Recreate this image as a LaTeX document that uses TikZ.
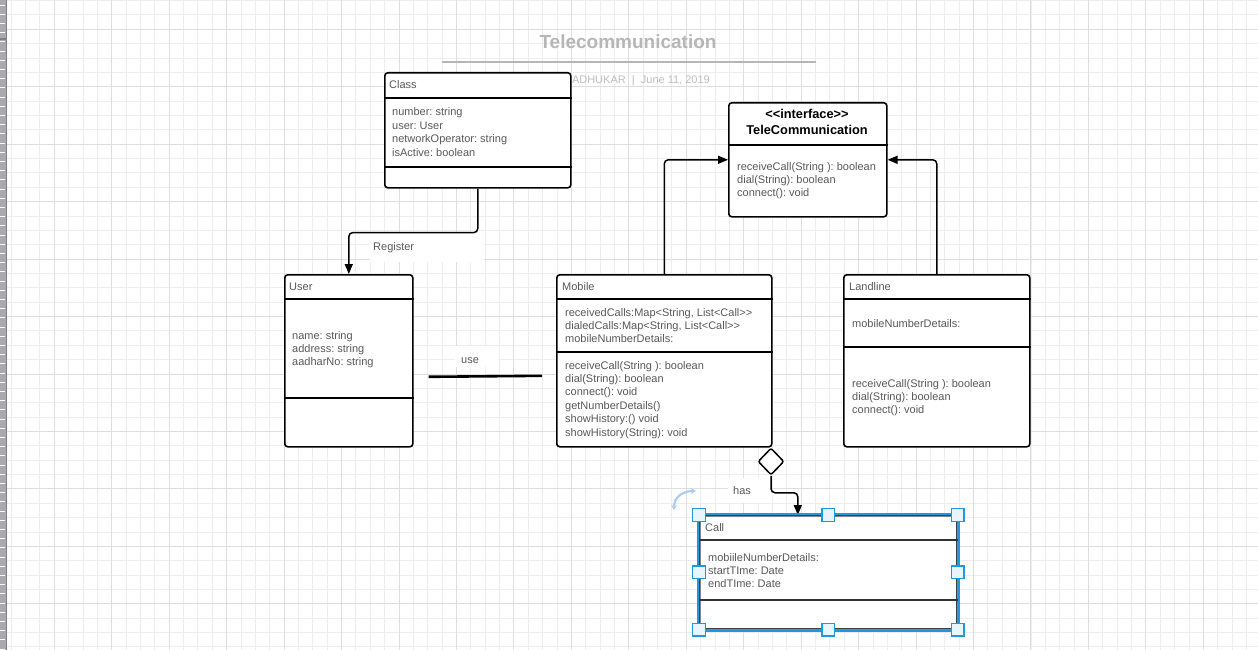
\documentclass[tikz,border=0pt]{standalone}
\usepackage{fontspec}
\newfontfamily\umlfont{Liberation Sans}
\usepackage{tikz}
\usetikzlibrary{arrows.meta,shapes.geometric}

\definecolor{txtgray}{RGB}{89,89,89}
\definecolor{titlegray}{RGB}{182,182,182}
\definecolor{subgray}{RGB}{190,190,190}
\definecolor{gridminor}{RGB}{237,237,237}
\definecolor{gridmajor}{RGB}{222,222,222}
\definecolor{selblue}{RGB}{30,152,222}
\definecolor{handlefill}{RGB}{232,245,253}
\definecolor{rotblue}{RGB}{172,206,240}
\definecolor{rulergray}{RGB}{170,170,174}

\newcommand{\members}[4]{%
	\foreach \t [count=\k from 0] in {#4}
		\node[mem] (#1\k) at (#2,#3+\k*13.4) {\t};}

\begin{document}
\begin{tikzpicture}[x=1pt,y=-1pt,
	umlbox/.style={draw=black,fill=white,line width=1.6pt,rounded corners=3pt,anchor=north west,inner sep=0},
	divline/.style={line width=1.5pt},
	mem/.style={anchor=base west,inner sep=0,yshift=-1pt,text=txtgray,font=\umlfont\frenchspacing\fontsize{11}{13.4}\selectfont},
	hdr/.style={anchor=base,inner sep=0,font=\umlfont\bfseries\fontsize{12.8}{15}\selectfont},
	lblbg/.style={fill=white,inner sep=0},
	conn/.style={line width=1.5pt,rounded corners=4pt,-{Triangle[length=10pt,width=8pt]}},
	handle/.style={draw=selblue,fill=handlefill,line width=1.4pt,minimum size=12.5pt,inner sep=0}]

	\useasboundingbox (0,0) rectangle (1258,650);
	\fill[white] (0,0) rectangle (1258,650);

	% grid
	\foreach \i in {-3,...,83}
		\draw[gridminor,line width=0.9pt] (54.3+\i*14.3625,0) -- (54.3+\i*14.3625,650);
	\foreach \j in {-2,...,43}
		\draw[gridminor,line width=0.9pt] (0,29.3+\j*14.3625) -- (1258,29.3+\j*14.3625);
	\foreach \i in {0,...,20}
		\draw[gridmajor,line width=1pt] (54.3+\i*57.45,0) -- (54.3+\i*57.45,650);
	\foreach \j in {0,...,10}
		\draw[gridmajor,line width=1pt] (0,29.3+\j*57.45) -- (1258,29.3+\j*57.45);

	% ruler
	\fill[rulergray] (0,0) rectangle (6,650);
	\foreach \t in {0,...,70}
		\draw[white,line width=0.8pt] (0,5+\t*9.2) -- (5,5+\t*9.2);
	\draw[gray,line width=0.8pt] (6,0) -- (6,650);
	\fill[gray] (0,38.5) rectangle (6,40.5);

	% title
	\node[inner sep=0,text=titlegray,font=\umlfont\bfseries\fontsize{19}{22}\selectfont] (title) at (628,42) {Telecommunication};
	\draw[titlegray,line width=1.2pt] (442,62) -- (816,62);
	\node[anchor=base east,inner sep=0,text=subgray,font=\umlfont\fontsize{11}{13}\selectfont] (sub) at (710,83.5) {MADHUKAR\ \ |\ \ June 11, 2019};

	% classes
	\node[umlbox,minimum width=186pt,minimum height=115pt] (cls) at (384,72) {};
	\draw[divline] ([yshift=-26pt]cls.north west) -- ([yshift=-26pt]cls.north east);
	\draw[divline] ([yshift=-95pt]cls.north west) -- ([yshift=-95pt]cls.north east);
	\node[mem] (clsname) at (389,88) {Class};
	\members{clsattr}{392}{115}{number: string,user: User,networkOperator: string,isActive: boolean}

	\node[umlbox,minimum width=158pt,minimum height=114pt] (tc) at (728,102) {};
	\draw[divline] ([yshift=-43pt]tc.north west) -- ([yshift=-43pt]tc.north east);
	\node[hdr] (tcst) at (807,118.5) {<<interface>>};
	\node[hdr] (tcname) at (807,135) {TeleCommunication};
	\members{tcop}{737}{169}{receiveCall(String ): boolean,dial(String): boolean,connect(): void}

	\node[umlbox,minimum width=128pt,minimum height=172pt] (usr) at (284,274) {};
	\draw[divline] ([yshift=-25pt]usr.north west) -- ([yshift=-25pt]usr.north east);
	\draw[divline] ([yshift=-124pt]usr.north west) -- ([yshift=-124pt]usr.north east);
	\node[mem] (usrname) at (289,289) {User};
	\members{usrattr}{292}{338}{name: string,address: string,aadharNo: string}

	\node[umlbox,minimum width=215pt,minimum height=172pt] (mob) at (556,274) {};
	\draw[divline] ([yshift=-25pt]mob.north west) -- ([yshift=-25pt]mob.north east);
	\draw[divline] ([yshift=-78pt]mob.north west) -- ([yshift=-78pt]mob.north east);
	\node[mem] (mobname) at (562,289) {Mobile};
	\members{mobattr}{565}{315}{{receivedCalls:Map<String, List<Call>>},{dialedCalls:Map<String, List<Call>>},mobileNumberDetails:}
	\members{mobop}{565}{368}{receiveCall(String ): boolean,dial(String): boolean,connect(): void,getNumberDetails(),showHistory:() void,showHistory(String): void}

	\node[umlbox,minimum width=186pt,minimum height=172pt] (lnd) at (843,274) {};
	\draw[divline] ([yshift=-25pt]lnd.north west) -- ([yshift=-25pt]lnd.north east);
	\draw[divline] ([yshift=-73pt]lnd.north west) -- ([yshift=-73pt]lnd.north east);
	\node[mem] (lndname) at (849,289) {Landline};
	\members{lndattr}{852}{326}{mobileNumberDetails:}
	\members{lndop}{852}{386}{receiveCall(String ): boolean,dial(String): boolean,connect(): void}

	\node[umlbox,draw=black!75,minimum width=257pt,minimum height=113pt] (call) at (699,515) {};
	\draw[divline,black!80] ([yshift=-25pt]call.north west) -- ([yshift=-25pt]call.north east);
	\draw[divline,black!80] ([yshift=-85pt]call.north west) -- ([yshift=-85pt]call.north east);
	\node[mem] (callname) at (705,530) {Call};
	\members{callattr}{708}{560}{mobiileNumberDetails:,startTIme: Date,endTIme: Date}

	% relations
	\node[lblbg,minimum width=114pt,minimum height=29pt] (regbg) at (427,247.5) {};
	\node[mem] (reglbl) at (373,249) {Register};
	\draw[conn] (cls.south) -- ++(0,44) -| (usr.north);

	\node[lblbg,minimum width=43pt,minimum height=21pt] (usebg) at (476.5,356.5) {};
	\node[mem] (uselbl) at (461,362) {use};
	\draw[line width=2.6pt] ([shift={(15,16)}]usr.east) -- ([shift={(-14,15)}]mob.west);

	\draw[conn] (mob.north) |- (tc.west);
	\draw[conn] (lnd.north) |- (tc.east);

	\node[diamond,draw,fill=white,line width=1.5pt,minimum width=26pt,minimum height=27pt,inner sep=0,rounded corners=2pt] (agg) at (771,461.5) {};
	\node[lblbg,minimum width=42pt,minimum height=25pt] (hasbg) at (749,490.5) {};
	\node[mem] (haslbl) at (733,493) {has};
	\draw[conn] (agg.south) -- ++(0,17) -| ([xshift=-30.5pt]call.north);

	% selection
	\draw[selblue,line width=2.2pt] ([shift={(-1.3,-1.3)}]call.north west) rectangle ([shift={(1.3,1.3)}]call.south east);
	\foreach \a [count=\n] in {north west,north,north east,west,east,south west,south,south east}
		\node[handle] (h\n) at (call.\a) {};
	\draw[rotblue,line width=2.2pt,{Stealth[length=5pt,width=6pt]}-{Stealth[length=5pt,width=6pt]}] (674,510) .. controls (674,497) and (683,491) .. (696,491);
\end{tikzpicture}
\end{document}
